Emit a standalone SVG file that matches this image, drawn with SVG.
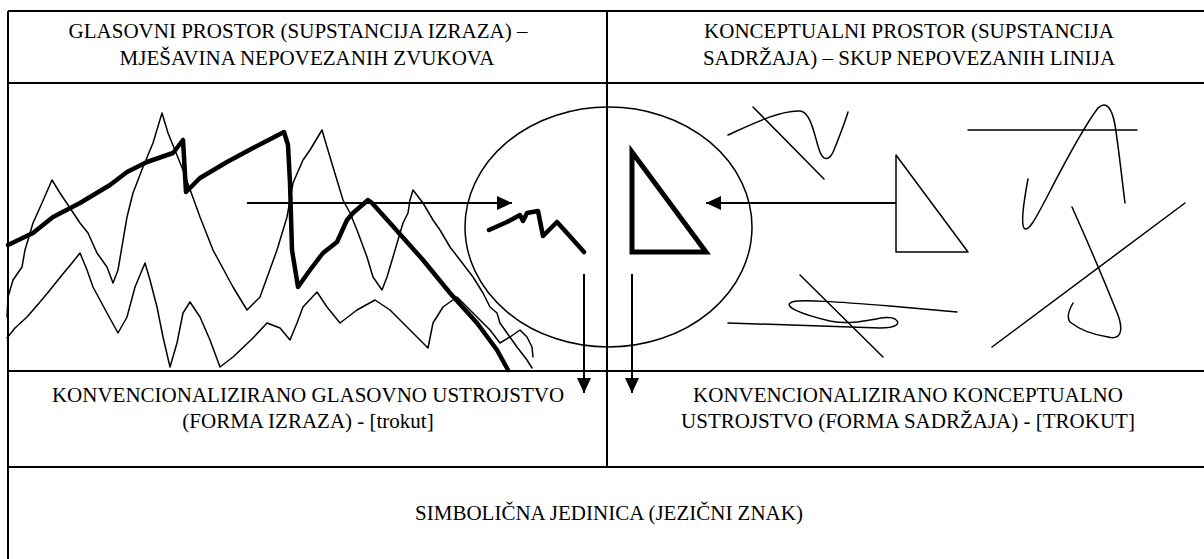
<svg xmlns="http://www.w3.org/2000/svg" width="1204" height="559" viewBox="0 0 1204 559">
<defs>
<style>
.grid{stroke:#000;stroke-width:2;fill:none}
text{font-family:'Liberation Serif',Tinos,'Times New Roman','DejaVu Serif',serif;font-size:21px;fill:#000;text-anchor:middle}
.thin{stroke:#000;stroke-width:1.5;fill:none;stroke-linejoin:round;stroke-linecap:round}
.thick{stroke:#000;stroke-width:4.5;fill:none;stroke-linejoin:round;stroke-linecap:round}
.arr{stroke:#000;stroke-width:2;fill:none}
</style>
<marker id="ah" markerUnits="userSpaceOnUse" markerWidth="16" markerHeight="14" refX="15" refY="7" orient="auto">
<path d="M0,0 L15,7 L0,14 Z" fill="#000"/>
</marker>
</defs>
<rect width="1204" height="559" fill="#fff"/>
<g id="table">
<path class="grid" d="M8,11 H1204 M8,83 H1204 M8,371 H1204 M8,467 H1204 M8,11 V559 M607,11 V467"/>
</g>
<g id="header-left" font-family="'Liberation Serif', serif">
<text x="298" y="38">GLASOVNI PROSTOR (SUPSTANCIJA IZRAZA) –</text>
<text x="307" y="65">MJEŠAVINA NEPOVEZANIH ZVUKOVA</text>
</g>
<g id="header-right" font-family="'Liberation Serif', serif">
<text x="909" y="38">KONCEPTUALNI PROSTOR (SUPSTANCIJA</text>
<text x="909" y="65">SADRŽAJA) – SKUP NEPOVEZANIH LINIJA</text>
</g>
<g id="sound-space">
<path class="thick" d="M8,245 L33,233 L53,217 L80,203 L110,185 L127,172 L147,162 L173,153 L183,140 L186,192 L200,178 L227,162 L253,148 L284,132 L288,145 L290,183 L292,250 L298,287 L310,270 L323,253 L337,242 L347,220 L353,213 L368,200 L372,203 L390,223 L423,260 L450,293 L477,323 L497,350 L508,370"/>
<path class="thin" d="M7,317 L8,297 L13,280 L22,267 L25,250 L33,223 L42,203 L52,180 L60,193 L80,223 L88,233 L97,253 L107,267 L113,283 L118,270 L127,217 L133,193 L143,167 L153,143 L162,113 L168,133 L183,170 L200,217 L213,250 L233,287 L247,310 L260,297 L277,250 L287,217 L293,183 L303,160 L310,150 L322,130 L327,147 L333,167 L343,200 L350,213 L357,230 L367,257 L373,277 L382,290 L387,277 L393,257 L398,240 L403,223 L408,213 L410,200 L413,190 L423,203 L433,220 L440,230 L450,247 L460,260 L473,277 L483,293 L490,307 L497,313 L500,323 L507,333 L517,347 L527,360 L532,368"/>
<path class="thin" d="M7,338 L15,328 L27,317 L40,302 L50,290 L62,275 L72,263 L80,253 L87,270 L93,287 L100,300 L107,313 L118,333 L127,317 L135,287 L145,263 L150,280 L157,307 L163,337 L170,367 L177,343 L183,313 L190,302 L200,317 L210,340 L220,367 L233,357 L253,338 L267,323 L280,328 L290,340 L297,323 L303,307 L317,292 L327,307 L340,323 L357,310 L375,300 L390,310 L407,327 L428,348 L433,323 L443,307 L457,297 L463,303 L477,317 L490,330 L500,343 L510,337 L520,330 L527,337 L532,347 L533,357"/>
</g>
<g id="focus-ellipse">
<ellipse cx="608.5" cy="227" rx="143.5" ry="120" fill="none" stroke="#000" stroke-width="1.5"/>
<path class="thick" d="M489,230 L507,222 L520,215 L523,221 L527,213 L538,211 L543,236 L557,222 L567,233 L584,252"/>
<path d="M632,152 L632,252 L706,252 Z" fill="none" stroke="#000" stroke-width="5" stroke-linejoin="miter"/>
</g>
<g id="concept-space">
<path class="thin" d="M896,155 L896,252 L968,252 Z"/>
<path class="thin" d="M753,107 L824,179"/>
<path class="thin" d="M728,135 C750,125 780,110 800,111 C812,112 815,140 820,152 C824,162 830,160 834,150 C840,135 845,122 848,112"/>
<path class="thin" d="M800,275 L883,357"/>
<path class="thin" d="M957,312 L890,306 C840,302 800,299 792,302 C782,306 800,314 830,321 C860,327 885,313 895,319 C902,324 895,328 880,328 L728,323"/>
<path class="thin" d="M968,130 H1137"/>
<path class="thin" d="M1028,179 C1025,195 1020,222 1024,228 C1028,233 1035,220 1048,195 C1065,162 1085,125 1098,108 C1106,100 1112,108 1115,125 C1119,150 1122,180 1125,203"/>
<path class="thin" d="M1185,203 L992,347"/>
<path class="thin" d="M1072,207 C1090,247 1110,295 1118,315 C1124,332 1120,340 1108,337 C1095,335 1080,330 1070,322 C1066,317 1069,310 1073,303"/>
</g>
<g id="connectors">
<line class="arr" x1="247" y1="203" x2="512" y2="203" marker-end="url(#ah)"/>
<line class="arr" x1="896" y1="203" x2="706" y2="203" marker-end="url(#ah)"/>
<line class="arr" x1="584" y1="274" x2="584" y2="393" marker-end="url(#ah)"/>
<line class="arr" x1="632" y1="274" x2="632" y2="393" marker-end="url(#ah)"/>
</g>
<g id="form-expression" font-family="'Liberation Serif', serif">
<text x="308" y="402">KONVENCIONALIZIRANO GLASOVNO USTROJSTVO</text>
<text x="308" y="428">(FORMA IZRAZA) - [trokut]</text>
</g>
<g id="form-content" font-family="'Liberation Serif', serif">
<text x="908" y="402">KONVENCIONALIZIRANO KONCEPTUALNO</text>
<text x="908" y="428">USTROJSTVO (FORMA SADRŽAJA) - [TROKUT]</text>
</g>
<g id="symbolic-unit" font-family="'Liberation Serif', serif">
<text x="609" y="520">SIMBOLIČNA JEDINICA (JEZIČNI ZNAK)</text>
</g>
</svg>
